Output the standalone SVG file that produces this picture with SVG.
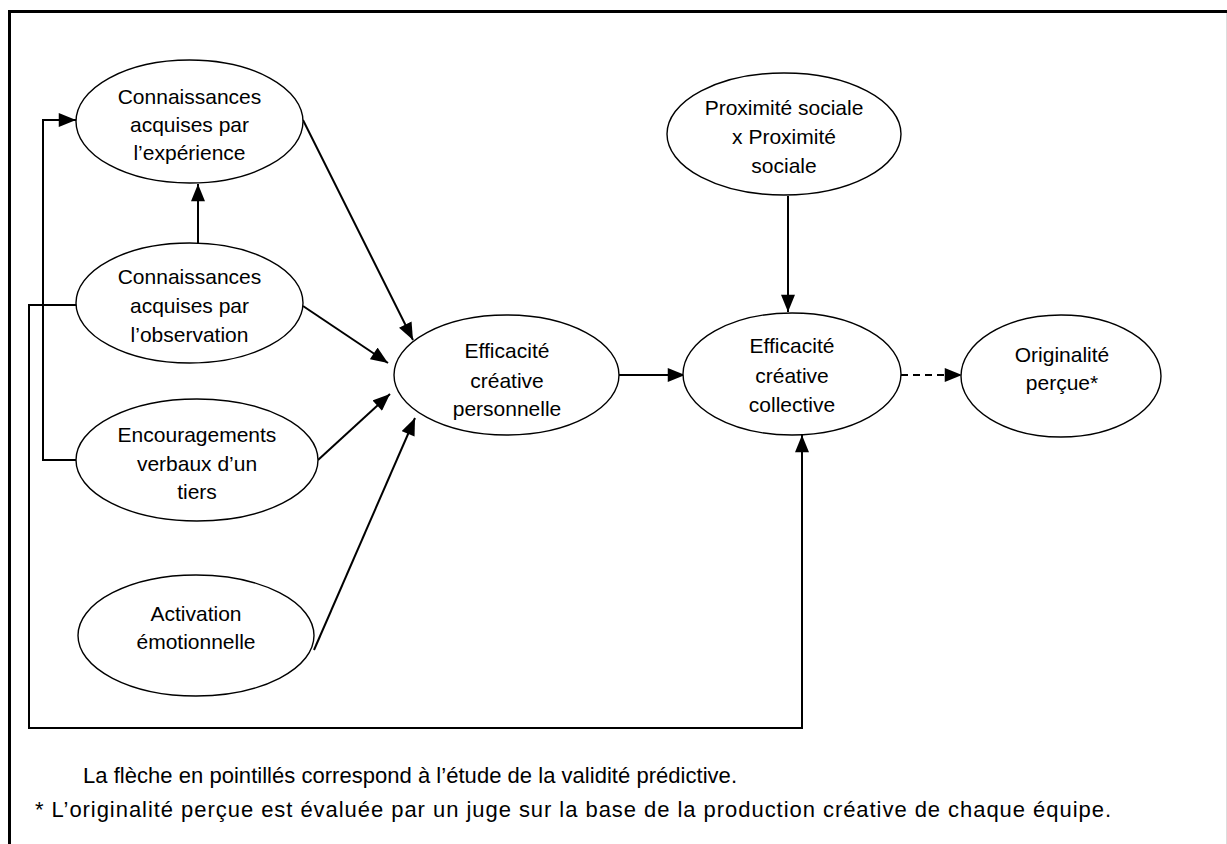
<svg xmlns="http://www.w3.org/2000/svg" width="1227" height="844" viewBox="0 0 1227 844">
<defs>
<marker id="arr" markerUnits="userSpaceOnUse" markerWidth="18" markerHeight="14" viewBox="0 0 16 13" refX="16" refY="6.5" orient="auto">
<path d="M0,0 L16,6.5 L0,13 Z" fill="#000"/>
</marker>
<style>
.n ellipse{fill:#fff;stroke:#000;stroke-width:1.4}
.n text, text.f{font-family:"Liberation Sans",Arial,sans-serif;font-size:21px;fill:#000;text-anchor:middle}
text.f{text-anchor:start;font-size:22px}
.c path{fill:none;stroke:#000;stroke-width:2}
.c .a{marker-end:url(#arr)}
.c .d{stroke-dasharray:7 5}
</style>
</defs>
<rect width="1227" height="844" fill="#fff"/>
<path d="M9.5,844 V11.5 H1227" fill="none" stroke="#000" stroke-width="3"/>
<path d="M1226.5,13 V844" fill="none" stroke="#ddd" stroke-width="1"/>
<g class="c" id="connectors">
<path class="a" d="M198,243 V184"/>
<path class="a" d="M303,120 L413,340"/>
<path class="a" d="M303,306 L388,363"/>
<path class="a" d="M318,460 L390,394"/>
<path class="a" d="M314,650 L415,418"/>
<path class="a" d="M619,375 H685"/>
<path class="a" d="M788,196 V312"/>
<path class="a d" d="M901,375 H962"/>
<path d="M76,305 H29 V728 H802"/>
<path class="a" d="M802,729 V435"/>
<path class="a" d="M76,460 H43 V120 H76"/>
</g>
<g class="n" id="n-experience">
<ellipse cx="189.5" cy="121.5" rx="113.5" ry="61.5"/>
<text x="189.5" y="104">Connaissances</text>
<text x="189.5" y="132">acquises par</text>
<text x="189.5" y="160">l’expérience</text>
</g>
<g class="n" id="n-observation">
<ellipse cx="189.5" cy="303" rx="113.5" ry="60"/>
<text x="189.5" y="284">Connaissances</text>
<text x="189.5" y="313">acquises par</text>
<text x="189.5" y="342">l’observation</text>
</g>
<g class="n" id="n-encouragements">
<ellipse cx="197" cy="460" rx="121" ry="61"/>
<text x="197" y="442">Encouragements</text>
<text x="197" y="471">verbaux d’un</text>
<text x="197" y="499">tiers</text>
</g>
<g class="n" id="n-activation">
<ellipse cx="196" cy="635.5" rx="118" ry="60.5"/>
<text x="196" y="621">Activation</text>
<text x="196" y="649">émotionnelle</text>
</g>
<g class="n" id="n-personnelle">
<ellipse cx="506.5" cy="375" rx="112.5" ry="60"/>
<text x="507" y="358">Efficacité</text>
<text x="507" y="388">créative</text>
<text x="507" y="416">personnelle</text>
</g>
<g class="n" id="n-proximite">
<ellipse cx="784" cy="134" rx="117" ry="61"/>
<text x="784" y="115">Proximité sociale</text>
<text x="784" y="144">x Proximité</text>
<text x="784" y="173">sociale</text>
</g>
<g class="n" id="n-collective">
<ellipse cx="792" cy="374" rx="109" ry="61"/>
<text x="792" y="353">Efficacité</text>
<text x="792" y="383">créative</text>
<text x="792" y="412">collective</text>
</g>
<g class="n" id="n-originalite">
<ellipse cx="1061" cy="376" rx="100" ry="61"/>
<text x="1062" y="362">Originalité</text>
<text x="1062" y="390">perçue*</text>
</g>
<text class="f" x="83" y="783" textLength="654" lengthAdjust="spacing">La flèche en pointillés correspond à l’étude de la validité prédictive.</text>
<text class="f" x="35" y="817" textLength="1076" lengthAdjust="spacing">* L’originalité perçue est évaluée par un juge sur la base de la production créative de chaque équipe.</text>
</svg>
